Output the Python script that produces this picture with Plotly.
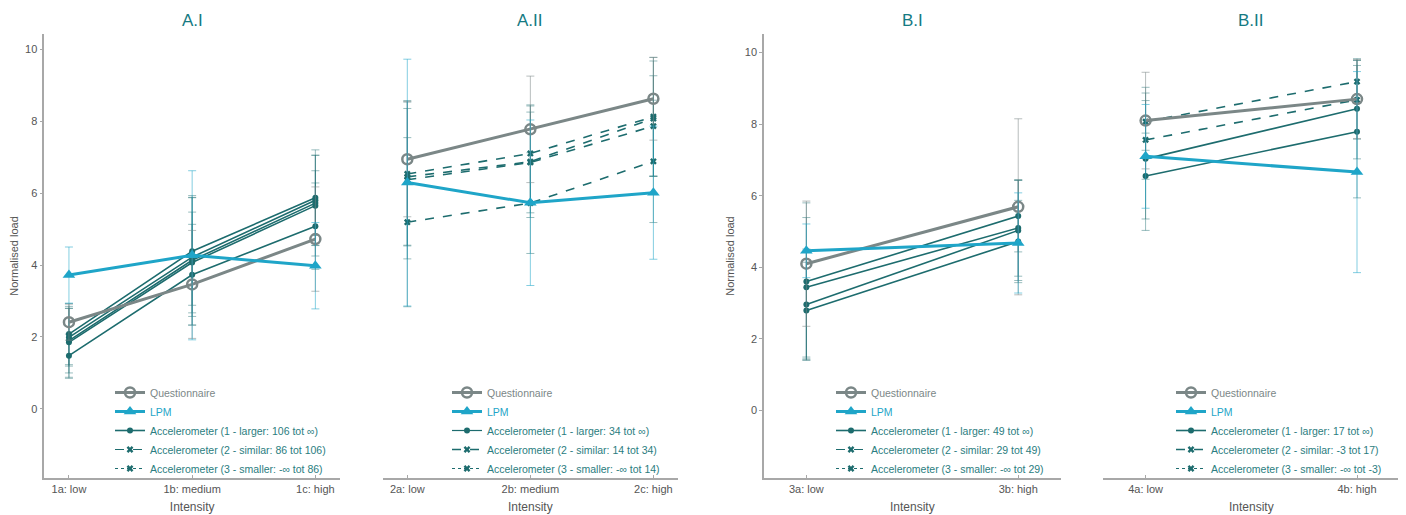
import plotly.graph_objects as go

# ---------------- data ----------------
cats_A1 = ["1a: low", "1b: medium", "1c: high"]
cats_A2 = ["2a: low", "2b: medium", "2c: high"]
cats_B1 = ["3a: low", "3b: high"]
cats_B2 = ["4a: low", "4b: high"]

titles = ["A.I", "A.II", "B.I", "B.II"]

# A.I
A1_quest = [2.41, 3.46, 4.72]
A1_quest_sd = [0.50, 1.50, 1.45]
A1_lpm = [3.72, 4.27, 3.98]
A1_lpm_sd = [0.78, 2.35, 1.20]
A1_acc1 = [[2.08, 4.38, 5.87], [1.99, 4.22, 5.80], [1.90, 4.13, 5.72],
           [1.85, 4.07, 5.65], [1.48, 3.73, 5.08]]
A1_acc1_sd = [[0.85, 1.50, 1.33], [0.80, 1.65, 1.25], [0.90, 1.80, 0.90],
              [1.00, 1.40, 1.40], [0.60, 1.40, 1.20]]
A1_acc2, A1_acc2_sd = [], []
A1_acc3, A1_acc3_sd = [], []
A1_bounds = ["106 tot ∞", "86 tot 106", "-∞ tot 86"]

# A.II
A2_quest = [6.94, 7.77, 8.62]
A2_quest_sd = [1.60, 1.48, 1.15]
A2_lpm = [6.29, 5.73, 6.01]
A2_lpm_sd = [3.43, 2.30, 1.85]
A2_acc1, A2_acc1_sd = [], []
A2_acc2 = [[6.53, 7.10, 8.12], [6.45, 6.87, 8.07], [6.37, 6.85, 7.86],
           [5.19, 5.72, 6.88]]
A2_acc2_sd = [[2.00, 1.35, 1.65], [1.90, 1.55, 1.60], [2.20, 1.40, 1.40],
              [2.35, 1.40, 1.70]]
A2_acc3, A2_acc3_sd = [], []
A2_bounds = ["34 tot ∞", "14 tot 34", "-∞ tot 14"]

# B.I
B1_quest = [4.10, 5.69]
B1_quest_sd = [1.75, 2.46]
B1_lpm = [4.46, 4.68]
B1_lpm_sd = [0.75, 1.40]
B1_acc1 = [[3.60, 5.43], [3.44, 5.10], [2.96, 5.03], [2.79, 4.72]]
B1_acc1_sd = [[2.20, 1.00], [1.95, 1.35], [1.55, 1.40], [1.35, 1.15]]
B1_acc2, B1_acc2_sd = [], []
B1_acc3, B1_acc3_sd = [], []
B1_bounds = ["49 tot ∞", "29 tot 49", "-∞ tot 29"]

# B.II
B2_quest = [8.10, 8.70]
B2_quest_sd = [1.35, 1.10]
B2_lpm = [7.10, 6.66]
B2_lpm_sd = [1.45, 2.81]
B2_acc1 = [[7.03, 8.43], [6.55, 7.79]]
B2_acc1_sd = [[2.00, 1.40], [1.20, 1.85]]
B2_acc2 = [[8.07, 9.19], [7.56, 8.68]]
B2_acc2_sd = [[0.80, 0.60], [1.10, 1.10]]
B2_acc3, B2_acc3_sd = [], []
B2_bounds = ["17 tot ∞", "-3 tot 17", "-∞ tot -3"]

# ---------------- style ----------------
C_Q = "#7b8787"
C_L = "#1fa5c8"
C_A = "#1d6c6e"
C_ATXT = "#2a7d80"
C_TITLE = "#157a82"
EB_Q = "rgba(123,135,135,0.55)"
EB_L = "rgba(31,165,200,0.55)"
EB_A = "rgba(29,108,110,0.45)"
FONT = "Liberation Sans, Arial, sans-serif"

panels = [
    (cats_A1, A1_quest, A1_quest_sd, A1_lpm, A1_lpm_sd,
     [(A1_acc1, A1_acc1_sd), (A1_acc2, A1_acc2_sd), (A1_acc3, A1_acc3_sd)], A1_bounds),
    (cats_A2, A2_quest, A2_quest_sd, A2_lpm, A2_lpm_sd,
     [(A2_acc1, A2_acc1_sd), (A2_acc2, A2_acc2_sd), (A2_acc3, A2_acc3_sd)], A2_bounds),
    (cats_B1, B1_quest, B1_quest_sd, B1_lpm, B1_lpm_sd,
     [(B1_acc1, B1_acc1_sd), (B1_acc2, B1_acc2_sd), (B1_acc3, B1_acc3_sd)], B1_bounds),
    (cats_B2, B2_quest, B2_quest_sd, B2_lpm, B2_lpm_sd,
     [(B2_acc1, B2_acc1_sd), (B2_acc2, B2_acc2_sd), (B2_acc3, B2_acc3_sd)], B2_bounds),
]

acc_styles = [
    dict(dash="solid", symbol="circle", size=6, label="1 - larger"),
    dict(dash="dash", symbol="x", size=6, label="2 - similar"),
    dict(dash="dot", symbol="x", size=6, label="3 - smaller"),
]

fig = go.Figure()

for i, (cats, q, qsd, l, lsd, accs, bounds) in enumerate(panels):
    n = i + 1
    xa = "x" if n == 1 else f"x{n}"
    ya = "y" if n == 1 else f"y{n}"
    lg = "legend" if n == 1 else f"legend{n}"
    for k, ((series, sds), st) in enumerate(zip(accs, acc_styles)):
        name = f"Accelerometer ({st['label']}: {bounds[k]})"
        if len(series) == 0:
            fig.add_trace(go.Scatter(
                x=[None], y=[None], xaxis=xa, yaxis=ya, legend=lg,
                mode="lines+markers", name=name, legendrank=3 + k,
                line=dict(color=C_A, width=1.2, dash=st["dash"]),
                marker=dict(symbol=st["symbol"], size=st["size"], color=C_A),
                hoverinfo="skip"))
            continue
        for j, (ys, sd) in enumerate(zip(series, sds)):
            fig.add_trace(go.Scatter(
                x=cats, y=ys, xaxis=xa, yaxis=ya, legend=lg,
                mode="lines+markers", name=name, legendrank=3 + k,
                showlegend=(j == 0),
                line=dict(color=C_A, width=1.6, dash=st["dash"]),
                marker=dict(symbol=st["symbol"], size=st["size"], color=C_A),
                error_y=dict(type="data", array=sd, color=EB_A, thickness=1, width=4)))
    fig.add_trace(go.Scatter(
        x=cats, y=q, xaxis=xa, yaxis=ya, legend=lg,
        mode="lines+markers", name=f"<span style='color:{C_Q}'>Questionnaire</span>",
        legendrank=1,
        line=dict(color=C_Q, width=3),
        marker=dict(symbol="circle-open", size=10, color=C_Q, line=dict(width=2.5)),
        error_y=dict(type="data", array=qsd, color=EB_Q, thickness=1, width=4)))
    fig.add_trace(go.Scatter(
        x=cats, y=l, xaxis=xa, yaxis=ya, legend=lg,
        mode="lines+markers", name=f"<span style='color:{C_L}'>LPM</span>",
        legendrank=2,
        line=dict(color=C_L, width=3),
        marker=dict(symbol="triangle-up", size=11, color=C_L),
        error_y=dict(type="data", array=lsd, color=EB_L, thickness=1, width=4)))

# ---------------- layout ----------------
OFF = 8                      # page body margin of the html page
W, H = 1406 - OFF, 515 - OFF
ML, MR, MT, MB = 44 - OFF, 6, 34 - OFF, 37
PW = W - ML - MR
PH = H - MT - MB

def px_x(p):
    return (p - OFF - ML) / PW

def px_y(p):
    return (H + OFF - MB - p) / PH

domains = [(44.3, 340.0), (382.7, 678.0), (764.0, 1060.6), (1103.3, 1399.3)]
yranges = [(-1.92, 10.42), (-1.92, 10.42), (-1.89, 10.52), (-1.89, 10.52)]
legend_left = [110, 447, 831, 1171]

layout = dict(
    width=W, height=H,
    margin=dict(l=ML, r=MR, t=MT, b=MB),
    paper_bgcolor="white", plot_bgcolor="white",
    font=dict(family=FONT, size=11, color="#555555"),
    showlegend=True,
    annotations=[],
)

for i in range(4):
    n = i + 1
    xk = "xaxis" if n == 1 else f"xaxis{n}"
    yk = "yaxis" if n == 1 else f"yaxis{n}"
    lk = "legend" if n == 1 else f"legend{n}"
    d0, d1 = domains[i]
    ncat = len(panels[i][0])
    has_y = n in (1, 3)
    layout[xk] = dict(
        domain=[max(0, px_x(d0)), min(1, px_x(d1))],
        anchor="y" if n == 1 else f"y{n}",
        type="category", range=[-0.2, ncat - 0.8],
        showline=True, linecolor="#a8a8a8", linewidth=1.5,
        ticks="inside", ticklen=3, tickcolor="#a8a8a8",
        showgrid=False, zeroline=False,
        tickfont=dict(size=11, color="#555555"),
        title=dict(text="Intensity", font=dict(size=12, color="#555555"), standoff=9),
        automargin=False,
    )
    layout[yk] = dict(
        domain=[0, 1],
        anchor="x" if n == 1 else f"x{n}",
        range=list(yranges[i]),
        showgrid=False, zeroline=False,
        automargin=False,
        tickvals=[0, 2, 4, 6, 8, 10],
    )
    if has_y:
        layout[yk].update(
            showline=True, linecolor="#a8a8a8", linewidth=1.5,
            ticks="outside", ticklen=3, tickcolor="#a8a8a8",
            tickfont=dict(size=11, color="#555555"),
            title=dict(text="Normalised load", font=dict(size=11, color="#555555"), standoff=8),
        )
    else:
        layout[yk].update(showline=False, showticklabels=False, ticks="")
    layout[lk] = dict(
        x=px_x(legend_left[i]), xanchor="left",
        y=px_y(483), yanchor="bottom",
        bgcolor="rgba(0,0,0,0)", borderwidth=0,
        font=dict(family=FONT, size=10.5, color=C_ATXT),
        tracegroupgap=0, itemwidth=30,
    )
    layout["annotations"].append(dict(
        text=titles[i], xref="paper", yref="paper",
        x=px_x((d0 + d1) / 2), y=px_y(20), xanchor="center", yanchor="middle",
        showarrow=False, font=dict(family=FONT, size=17, color=C_TITLE)))

fig.update_layout(**layout)
fig.write_html("out.html")
